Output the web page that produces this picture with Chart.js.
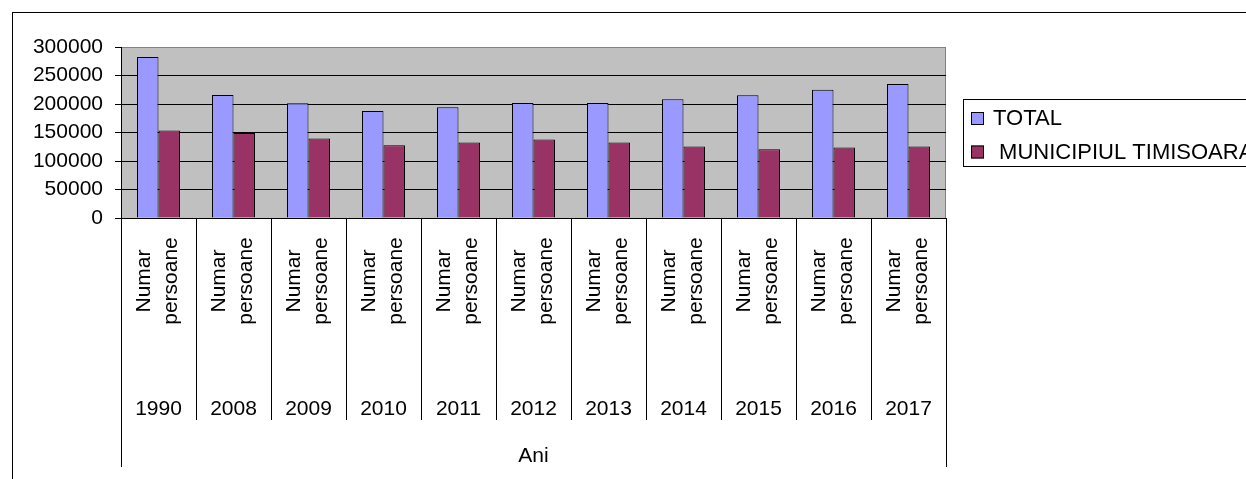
<!DOCTYPE html>
<html lang="ro">
<head>
  <meta charset="UTF-8">
  <title>Numar persoane - Ani</title>
  <script src="https://cdn.jsdelivr.net/npm/chart.js"></script>
  <style>
    html, body { margin: 0; padding: 0; background: #fff; overflow: hidden; }
    #populationChart { display: block; }
  </style>
</head>
<body>
<canvas id="populationChart" width="1246" height="479"></canvas>
<script>
  // Data
  const years = ['1990', '2008', '2009', '2010', '2011', '2012', '2013', '2014', '2015', '2016', '2017'];
  const subLabel = ['Numar', 'persoane'];
  const axisTitle = 'Ani';
  const seriesNames = ['TOTAL', ' MUNICIPIUL TIMISOARA'];
  const totalValues = [282400, 215800, 201200, 187600, 194100, 201700, 201700, 208200, 215300, 225200, 235200];
  const timisoaraValues = [153500, 149300, 139400, 127600, 132400, 137600, 132400, 125300, 120500, 123500, 125300];
  const yMax = 300000;
  const yStep = 50000;

  const FONT = '"Liberation Sans", Arial, sans-serif';
  const FONT_SIZE = 21;

  // gray plot background + right border, drawn before the grid
  const plotBackground = {
    id: 'plotBackground',
    beforeDraw(chart) {
      const { ctx, chartArea: a } = chart;
      ctx.save();
      ctx.fillStyle = '#C0C0C0';
      ctx.fillRect(a.left, a.top, a.right - a.left, a.bottom - a.top);
      ctx.strokeStyle = '#808080';
      ctx.lineWidth = 1;
      ctx.beginPath();
      ctx.moveTo(Math.round(a.right) - 0.5, a.top);
      ctx.lineTo(Math.round(a.right) - 0.5, a.bottom);
      ctx.stroke();
      ctx.restore();
    }
  };

  // category labels on two levels, separators, axis title, legend, frame
  const categoryAxis = {
    id: 'categoryAxis',
    afterDraw(chart) {
      const { ctx, chartArea: a } = chart;
      const x = chart.scales.x;
      const n = years.length;
      ctx.save();
      ctx.fillStyle = '#000';
      ctx.strokeStyle = '#000';
      ctx.lineWidth = 1;
      ctx.font = FONT_SIZE + 'px ' + FONT;

      for (let i = 0; i < n; i++) {
        const c = x.getPixelForValue(i);
        // rotated "Numar / persoane"
        const offsets = [-8.5, 18];
        subLabel.forEach((line, j) => {
          ctx.save();
          ctx.translate(c + offsets[j], 281);
          ctx.rotate(-Math.PI / 2);
          ctx.textAlign = 'center';
          ctx.textBaseline = 'alphabetic';
          ctx.fillText(line, 0, 0);
          ctx.restore();
        });
        // year
        ctx.textAlign = 'center';
        ctx.textBaseline = 'alphabetic';
        ctx.fillText(years[i], c, 415);
      }

      // separators between categories
      ctx.beginPath();
      for (let i = 0; i <= n; i++) {
        let bx;
        if (i === 0) bx = a.left;
        else if (i === n) bx = a.right;
        else bx = (x.getPixelForValue(i - 1) + x.getPixelForValue(i)) / 2;
        bx = Math.round(bx) + 0.5;
        const end = (i === 0 || i === n) ? 467 : 420;
        ctx.moveTo(bx, a.bottom);
        ctx.lineTo(bx, end);
      }
      ctx.stroke();

      ctx.textAlign = 'center';
      ctx.fillText(axisTitle, (a.left + a.right) / 2, 462);

      // legend (runs past the right edge)
      ctx.strokeRect(963.5, 99.5, 600, 67);
      ctx.textAlign = 'left';
      ctx.font = '22px ' + FONT;
      const rows = [125, 158.5];
      chart.data.datasets.forEach((ds, k) => {
        const y = rows[k];
        ctx.fillStyle = ds.backgroundColor;
        ctx.fillRect(971, y - 13, 13, 13);
        ctx.strokeRect(971.5, y - 12.5, 12, 12);
        ctx.fillStyle = '#000';
        ctx.fillText(ds.label, 993, y);
      });

      // outer frame
      ctx.strokeRect(12.5, 12.5, 2000, 2000);
      ctx.restore();
    }
  };

  const chart = new Chart(document.getElementById('populationChart'), {
    type: 'bar',
    data: {
      labels: years,
      datasets: [
        {
          label: seriesNames[0],
          data: totalValues,
          backgroundColor: '#9999FF',
          borderColor: '#000',
          borderWidth: 1
        },
        {
          label: seriesNames[1],
          data: timisoaraValues,
          backgroundColor: '#993366',
          borderColor: '#000',
          borderWidth: 1
        }
      ]
    },
    options: {
      responsive: false,
      animation: false,
      devicePixelRatio: 1,
      layout: { padding: { left: 12, top: 47, right: 300, bottom: 261 } },
      datasets: {
        bar: { categoryPercentage: 0.573, barPercentage: 1.0 }
      },
      plugins: {
        legend: { display: false },
        tooltip: { enabled: false }
      },
      scales: {
        x: {
          type: 'category',
          grid: { display: false },
          border: { display: true, color: '#000', width: 1 },
          ticks: { display: false },
          afterFit: (scale) => { scale.height = 0; }
        },
        y: {
          min: 0,
          max: yMax,
          ticks: {
            stepSize: yStep,
            color: '#000',
            padding: 12,
            font: { family: FONT, size: FONT_SIZE },
            callback: (v) => String(v)
          },
          grid: {
            color: (c) => (c.tick && c.tick.value === yMax ? '#808080' : '#000'),
            tickColor: '#000',
            tickLength: 6
          },
          border: { display: true, color: '#000', width: 1 },
          afterFit: (scale) => { scale.width = 109; }
        }
      }
    },
    plugins: [plotBackground, categoryAxis]
  });
</script>
</body>
</html>
